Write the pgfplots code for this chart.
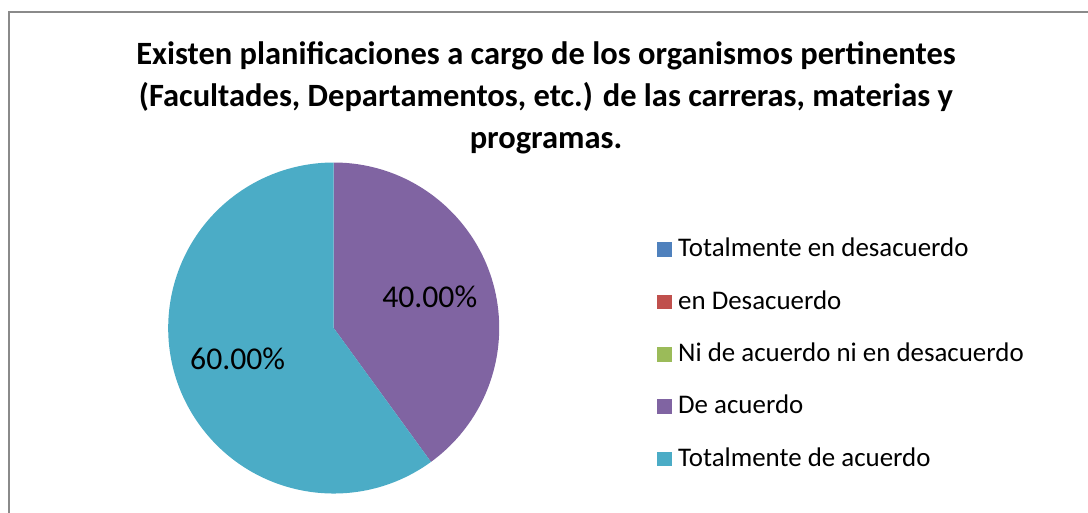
\documentclass[border=0pt]{standalone}
\usepackage{pgfplots}
\usepackage{pgfplotstable}
\pgfplotsset{compat=1.18}
\usetikzlibrary{calc}
\usepackage{fontspec}
\setmainfont{Carlito}
\definecolor{c0}{HTML}{4F81BD}
\definecolor{c1}{HTML}{C0504D}
\definecolor{c2}{HTML}{9BBB59}
\definecolor{c3}{HTML}{8064A2}
\definecolor{c4}{HTML}{4BACC6}
\definecolor{framegray}{HTML}{8A8A8A}
\pgfplotstableread[col sep=comma]{
name,value
Totalmente en desacuerdo,0
en Desacuerdo,0
Ni de acuerdo ni en desacuerdo,0
De acuerdo,40
Totalmente de acuerdo,60
}\piedata
\newcommand\lblfont{\fontsize{31.7}{38}\selectfont}
\newcommand\legfont{\fontsize{26.9}{32}\selectfont}
\begin{document}
\begin{tikzpicture}
\begin{axis}[at={(0,0)},anchor=south west,scale only axis,
  width=1088pt,height=512pt,xmin=0,xmax=1088,ymin=0,ymax=512,
  y dir=reverse,hide axis,clip=false]
\draw[framegray,line width=2pt] (axis cs:1100,12) -- (axis cs:9,12) -- (axis cs:9,530);
\node[anchor=base,align=center,inner sep=0pt,font=\bfseries\fontsize{32.5}{42}\selectfont]
  at (axis cs:546,148) {Existen planificaciones a cargo de los organismos pertinentes\\(Facultades, Departamentos, etc.) de las carreras, materias y\\programas.};
\pgfplotstablegetrowsof{\piedata}
\pgfmathtruncatemacro\N{\pgfplotsretval-1}
\def\cum{0}
\pgfplotsforeachungrouped \i in {0,...,\N}{%
  \pgfplotstablegetelem{\i}{value}\of\piedata
  \let\v\pgfplotsretval
  \pgfplotstablegetelem{\i}{name}\of\piedata
  \let\nm\pgfplotsretval
  \pgfmathsetmacro\a{90-3.6*\cum}%
  \pgfmathsetmacro\b{90-3.6*(\cum+\v)}%
  \pgfmathsetmacro\m{(\a+\b)/2}%
  \pgfmathsetmacro\cum{\cum+\v}%
  \pgfmathsetmacro\ly{256.7+52.4*\i}%
  \edef\temp{%
    \noexpand\fill[c\i] (axis cs:657,\ly-14.5) rectangle (axis cs:672,\ly);
    \noexpand\node[anchor=base west,inner sep=0pt,font=\noexpand\legfont] at (axis cs:678,\ly) {\nm};
  }\temp
  \ifdim\v pt>0pt
    \edef\temp{%
      \noexpand\fill[c\i] (axis cs:333.7,328) -- ++(\a:165.5pt) arc[start angle=\a,end angle=\b,radius=165.5pt] -- cycle;
      \noexpand\node[inner sep=0pt,font=\noexpand\lblfont] at ($(axis cs:333.7,328)+(\m:101pt)$) {\noexpand\pgfmathprintnumber[fixed,zerofill,precision=2,assume math mode=true]{\v}\noexpand\%};
    }\temp
  \fi
}
\end{axis}
\pgfresetboundingbox
\useasboundingbox (0,0) rectangle (1088pt,512pt);
\end{tikzpicture}
\end{document}
